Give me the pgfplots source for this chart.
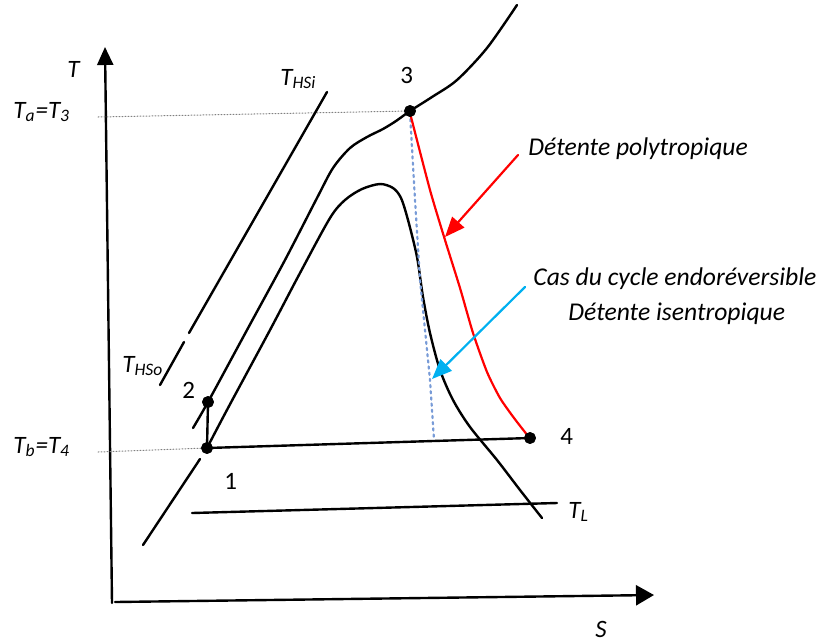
\documentclass[border=0pt]{standalone}
\usepackage{pgfplots}
\pgfplotsset{compat=1.18}
\usepackage{fontspec}
\setmainfont{Carlito}
\usetikzlibrary{arrows.meta}
\definecolor{polyred}{RGB}{255,0,0}
\definecolor{arrowblue}{RGB}{0,176,240}
\definecolor{isoblue}{RGB}{120,155,215}
\tikzset{
  lbl/.style={font=\fontsize{12.5}{14}\selectfont\itshape, inner sep=0pt},
  txt/.style={font=\fontsize{12.8}{15}\selectfont\itshape, inner sep=0pt},
  num/.style={font=\fontsize{12.5}{14}\selectfont, inner sep=0pt},
}

\begin{document}
\begin{tikzpicture}
\begin{axis}[
  scale only axis, width=411pt, height=321.5pt,
  xmin=0, xmax=822, ymin=0, ymax=643, y dir=reverse,
  hide axis, clip=false,
  every axis plot/.append style={line cap=round, line join=round},
]
% T and S axes
\addplot[black, line width=1.2pt, -{Triangle[width=8pt,length=9pt]}] coordinates {(112,603) (105,47)};
\addplot[black, line width=1.2pt, -{Triangle[width=10pt,length=9pt]}] coordinates {(115,602) (654,595)};

% reference temperatures
\addplot[gray, line width=0.5pt, densely dotted] coordinates {(98,117) (410,111)};
\addplot[gray, line width=0.5pt, densely dotted] coordinates {(98,452) (207,448)};

% hot source line T_HSi -> T_HSo
\addplot[black, line width=1.2pt] coordinates {(327,92) (189,333)};
\addplot[black, line width=1.2pt] coordinates {(184,342) (160,385)};

% heating curve through 2 and 3
\addplot[black, line width=1.2pt, smooth, tension=0.5] coordinates {
  (193,428) (208,402) (247,330) (285,260) (317,198) (333,168)
  (350,148) (367,137) (383,129) (396,121) (410,111) (432,97)
  (457,80) (487,48) (517,5)};

% saturation dome
\addplot[black, line width=1.2pt] coordinates {(143,545) (200,459)};
\addplot[black, line width=1.2pt, smooth, tension=0.5] coordinates {
  (207,448) (228,408) (270,330) (300,273) (330,218) (345,200)
  (362,189) (380,184) (393,188) (401,198) (408,220) (417,257)
  (423,297) (430,333) (440,370) (453,400) (470,427) (497,460)
  (520,490) (542,518)};

% cold sink T_L
\addplot[black, line width=1.2pt] coordinates {(192,513) (557,503)};
% isobar 4 -> 1 and compression 1 -> 2
\addplot[black, line width=1.2pt] coordinates {(207,448) (530,438)};
\addplot[black, line width=1.2pt] coordinates {(207,448) (208,402)};

% isentropic expansion
\addplot[isoblue, line width=1.1pt, dotted] coordinates {
  (410,113) (415,200) (420,280) (430,380) (434,440)};

% polytropic expansion
\addplot[polyred, line width=1.1pt, smooth, tension=0.4] coordinates {
  (410,113) (430,190) (445,240) (460,288) (473,333) (487,372)
  (500,398) (514,418) (528,436)};

% annotation arrows
\addplot[polyred, line width=1.1pt, -{Triangle[width=8pt,length=10pt]}] coordinates {(518,155) (445,237)};
\addplot[arrowblue, line width=1.1pt, -{Triangle[width=8pt,length=10pt]}] coordinates {(525,287) (432,379)};

% state points
\addplot[only marks, mark=*, mark size=2.8pt, black] coordinates {
  (410,111) (530,438) (208,402) (207,448)};

% labels
\node[lbl, anchor=base west] at (axis cs:67,77) {T};
\node[lbl, anchor=base west] at (axis cs:595,637) {S};
\node[lbl, anchor=base west] at (axis cs:13,118) {T\textsubscript{a}=T\textsubscript{3}};
\node[lbl, anchor=base west] at (axis cs:13,453) {T\textsubscript{b}=T\textsubscript{4}};
\node[lbl, anchor=base west] at (axis cs:280,85) {T\textsubscript{HSi}};
\node[lbl, anchor=base west] at (axis cs:122,372) {T\textsubscript{HSo}};
\node[lbl, anchor=base west] at (axis cs:568,518) {T\textsubscript{L}};
\node[num, anchor=base west] at (axis cs:182,398) {2};
\node[num, anchor=base west] at (axis cs:224,489) {1};
\node[num, anchor=base west] at (axis cs:400,83) {3};
\node[num, anchor=base west] at (axis cs:560,444) {4};
\node[txt, anchor=base west] at (axis cs:528,155) {Détente polytropique};
\node[txt, anchor=base west] at (axis cs:533,285) {Cas du cycle endoréversible};
\node[txt, anchor=base west] at (axis cs:568,320) {Détente isentropique};
\end{axis}
\pgfresetboundingbox
\path[use as bounding box] (current axis.south west) rectangle (current axis.north east);
\end{tikzpicture}
\end{document}
